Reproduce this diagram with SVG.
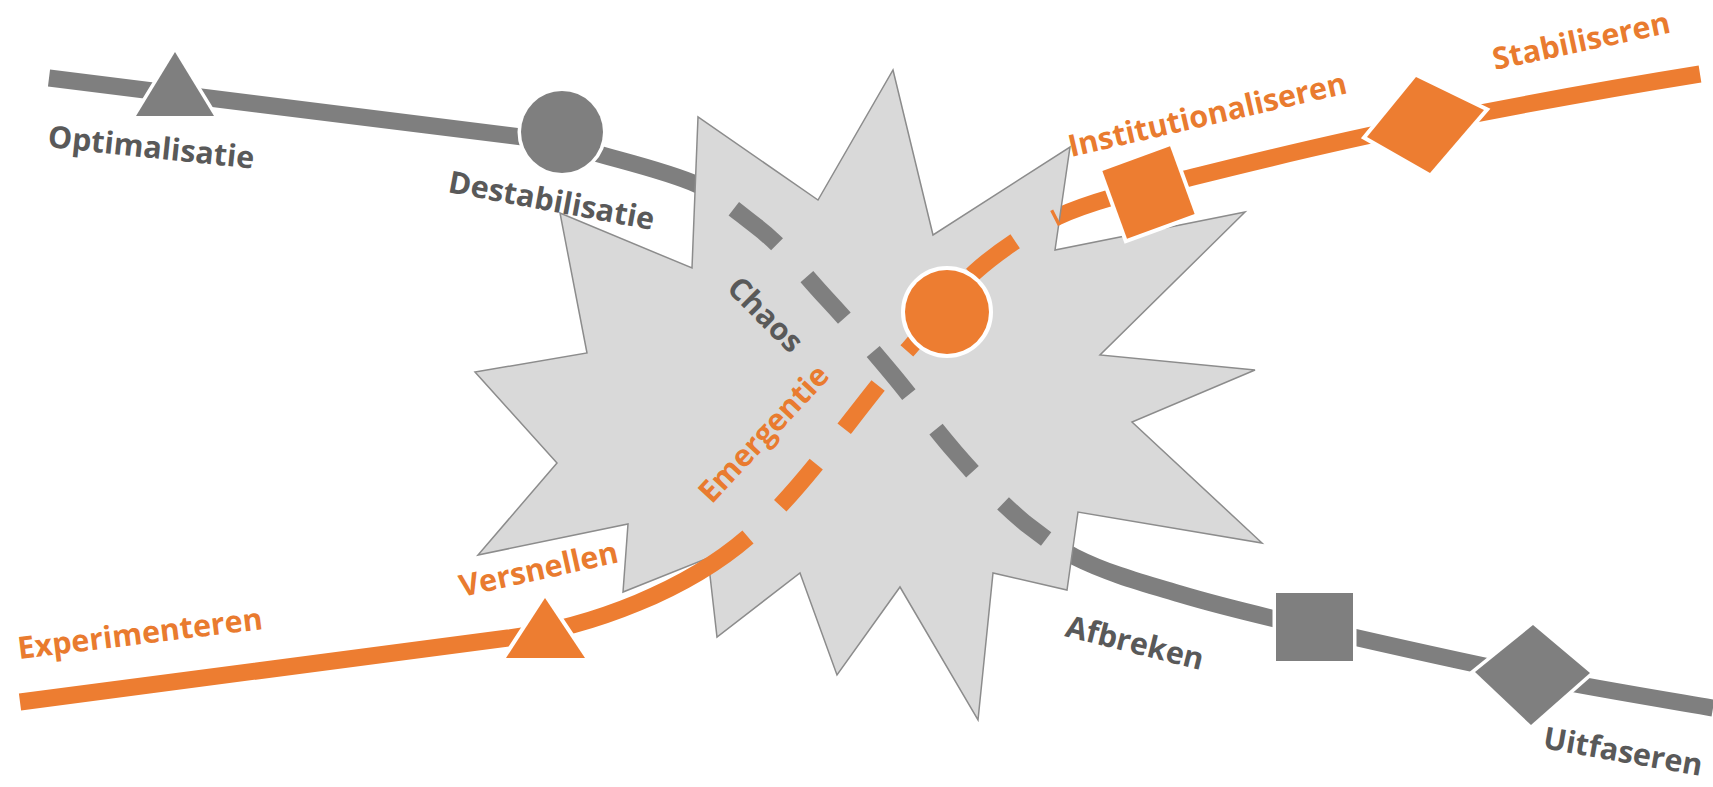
<svg xmlns="http://www.w3.org/2000/svg" width="1713" height="787" viewBox="0 0 1713 787">
<style>
.g{fill:none;stroke:#7F7F7F;stroke-width:17}
.o{fill:none;stroke:#ED7D31;stroke-width:17}
.gd{stroke-dasharray:56 44;stroke-dashoffset:57}
.od{stroke-dasharray:55 45;stroke-dashoffset:55}
.mg{fill:#7F7F7F;stroke:#fff;stroke-width:7;paint-order:stroke}
.mo{fill:#ED7D31;stroke:#fff;stroke-width:8;paint-order:stroke}
text{font-family:"Open Sans","Liberation Sans",sans-serif;font-weight:700;font-size:30.5px}
.tg{fill:#595959}
.to{fill:#E97B2F}
</style>
<rect width="1713" height="787" fill="#fff"/>
<g id="connectors-back">
<path id="gray-line" class="g" d="M49,78 L562,142 C592,155 658,167 698,185 C719.2,195.6 737.1,211.8 756,226 C782.8,246.1 803.2,273.5 826,298 C849.1,322.8 871.2,348.8 893,375 C914.1,400.4 933.2,426.9 955,452 C976.8,477.1 999.6,501.9 1025,523 C1040.4,535.8 1057.2,548 1075,557 C1108,573.7 1144.6,583.4 1180,594 C1224,607.2 1269.2,617.7 1314,628 C1387,644.8 1459.5,661.3 1533,676 C1592.8,688 1653,697.8 1713,708"/>
<path id="orange-line-right" class="o" d="M905,353 C930,325 955,290 975,272 C995,254 1025,233 1057,217 C1099,198 1147.4,188.4 1193,177 C1269.6,157.8 1346.6,139.5 1424,124 C1515.2,105.8 1608.2,88.7 1700,74"/>
</g>
<g id="chaos-star">
<polygon points="893,70 933,235 1070,147 1055,250 1245,212 1100,355 1255,370 1132,422 1262,543 1078,512 1067,590 993,573 978,720 900,587 837,675 800,573 717,637 708,558 623,592 628,524 478,555 557,463 475,372 587,353 560,213 692,268 698,117 818,200" fill="#D9D9D9" stroke="#8C8C8C" stroke-width="1.5" stroke-linejoin="miter"/>
<text class="tg" transform="translate(765,315) rotate(45)" x="0" y="10" text-anchor="middle">Chaos</text>
<text class="to" transform="translate(764,434) rotate(-47)" x="0" y="10" text-anchor="middle">Emergentie</text>
</g>
<g id="connectors-front">
<path id="orange-line-left" class="o" d="M20,702 L508,638 C594,626.7 688,589 748,537"/>
<path id="gray-dashed" class="g gd" d="M698,185 C719.2,195.6 737.1,211.8 756,226 C782.8,246.1 803.2,273.5 826,298 C849.1,322.8 871.2,348.8 893,375 C914.1,400.4 933.2,426.9 955,452 C976.8,477.1 999.6,501.9 1025,523 L1050,542"/>
<path id="orange-dashed" class="o od" d="M748,537 C806,486.5 852.5,413.4 905,353 C930,325 955,290 975,272 C995,254 1025,233 1057,217"/>
</g>
<g id="optimalisatie">
<polygon class="mg" points="175,52 214,116 136,116"/>
<text class="tg" transform="translate(47,147) rotate(6)">Optimalisatie</text>
</g>
<g id="destabilisatie">
<circle class="mg" cx="562" cy="132" r="41"/>
<text class="tg" transform="translate(447,192) rotate(10.5)">Destabilisatie</text>
</g>
<g id="afbreken">
<rect class="mg" x="1276" y="593" width="77" height="68"/>
<text class="tg" transform="translate(1064,636) rotate(14)">Afbreken</text>
</g>
<g id="uitfaseren">
<polygon class="mg" points="1533,625 1590,673 1531,725 1475,672"/>
<text class="tg" transform="translate(1542,748) rotate(10)">Uitfaseren</text>
</g>
<g id="experimenteren">
<text class="to" transform="translate(19,659) rotate(-7)">Experimenteren</text>
</g>
<g id="versnellen">
<polygon class="mo" points="545,598 585,658 506,658"/>
<text class="to" transform="translate(462,597) rotate(-12.5)">Versnellen</text>
</g>
<g id="emergentie-node">
<circle class="mo" cx="947" cy="312" r="42"/>
</g>
<g id="institutionaliseren">
<rect class="mo" x="-36" y="-36" width="72" height="72" transform="translate(1148.5,192.5) rotate(-20)"/>
<text class="to" transform="translate(1071,157) rotate(-13)">Institutionaliseren</text>
</g>
<g id="stabiliseren">
<polygon class="mo" points="1416,77 1484,110 1430,173 1367,137"/>
<text class="to" transform="translate(1495,70) rotate(-12)">Stabiliseren</text>
</g>
</svg>
